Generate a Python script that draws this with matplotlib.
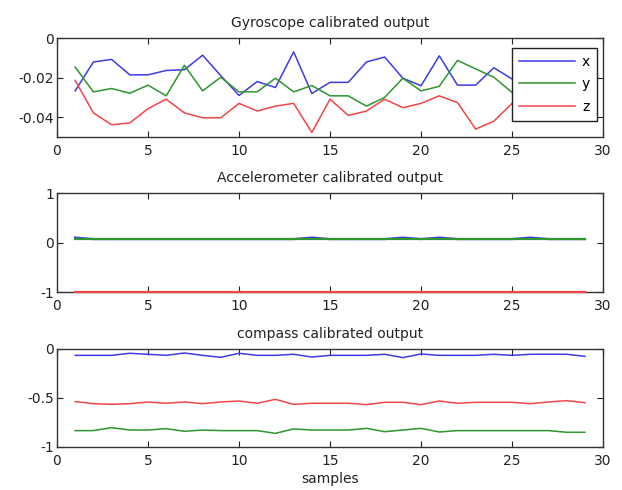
import matplotlib
import matplotlib.pyplot as plt

matplotlib.use('Agg')

samples = list(range(1, 30))

# Gyroscope calibrated output (x, y, z)
gyro_x = [-0.0267, -0.0121, -0.0108, -0.0186, -0.0186, -0.0164, -0.0160, -0.0087, -0.0190, -0.0290,
          -0.0220, -0.0250, -0.0070, -0.0280, -0.0224, -0.0224, -0.0121, -0.0096, -0.0203, -0.0241,
          -0.0090, -0.0238, -0.0238, -0.0150, -0.0207, -0.0220, -0.0200, -0.0180, -0.0210]
gyro_y = [-0.0147, -0.0272, -0.0255, -0.0279, -0.0238, -0.0292, -0.0138, -0.0267, -0.0198, -0.0272,
          -0.0272, -0.0203, -0.0272, -0.0240, -0.0292, -0.0292, -0.0344, -0.0300, -0.0203, -0.0267,
          -0.0244, -0.0113, -0.0156, -0.0198, -0.0275, -0.0280, -0.0250, -0.0270, -0.0260]
gyro_z = [-0.0215, -0.0378, -0.0438, -0.0429, -0.0357, -0.0309, -0.0378, -0.0403, -0.0403, -0.0330,
          -0.0369, -0.0344, -0.0330, -0.0477, -0.0309, -0.0391, -0.0369, -0.0309, -0.0352, -0.0330,
          -0.0292, -0.0326, -0.0460, -0.0420, -0.0330, -0.0310, -0.0340, -0.0330, -0.0350]

# Accelerometer calibrated output
acc_x = [0.1, 0.07, 0.07, 0.07, 0.07, 0.07, 0.07, 0.07, 0.07, 0.07,
         0.07, 0.07, 0.07, 0.1, 0.07, 0.07, 0.07, 0.07, 0.1, 0.07,
         0.1, 0.07, 0.07, 0.07, 0.07, 0.1, 0.07, 0.07, 0.07]
acc_y = [0.07] * 29
acc_z = [-1.0] * 29

# Compass calibrated output
comp_x = [-0.065, -0.065, -0.065, -0.044, -0.054, -0.065, -0.041, -0.065, -0.085, -0.044,
          -0.065, -0.065, -0.054, -0.082, -0.065, -0.065, -0.065, -0.054, -0.088, -0.051,
          -0.065, -0.065, -0.065, -0.054, -0.065, -0.054, -0.054, -0.054, -0.075]
comp_y = [-0.833, -0.833, -0.803, -0.827, -0.827, -0.813, -0.840, -0.827, -0.833, -0.833,
          -0.833, -0.861, -0.816, -0.827, -0.827, -0.827, -0.810, -0.844, -0.827, -0.810,
          -0.847, -0.833, -0.833, -0.833, -0.833, -0.833, -0.833, -0.850, -0.850]
comp_z = [-0.537, -0.558, -0.565, -0.558, -0.541, -0.554, -0.541, -0.558, -0.541, -0.531,
          -0.554, -0.514, -0.565, -0.554, -0.554, -0.554, -0.568, -0.544, -0.544, -0.568,
          -0.531, -0.554, -0.544, -0.544, -0.544, -0.558, -0.541, -0.527, -0.548]

titles = ['Gyroscope calibrated output', 'Accelerometer calibrated output', 'compass calibrated output']
yticks = [[-0.04, -0.02, 0], [-1, 0, 1], [-1, -0.5, 0]]
yticklabels = [['-0.04', '-0.02', '0'], ['-1', '0', '1'], ['-1', '-0.5', '0']]
ylims = [(-0.05, 0), (-1, 1), (-1, 0)]
xticks = [0, 5, 10, 15, 20, 25, 30]

blue = '#3c3ce6'
green = '#2e962e'
red = '#f04646'
ink = '#222222'

plt.rcParams['font.family'] = ['DejaVu Sans']

fig = plt.figure(figsize=(6.22, 4.9), dpi=100)
boxes = [[0.0916, 0.7204, 0.878, 0.202],
         [0.0916, 0.404, 0.878, 0.202],
         [0.0916, 0.0878, 0.878, 0.200]]
series = [(gyro_x, gyro_y, gyro_z), (acc_x, acc_y, acc_z), (comp_x, comp_y, comp_z)]

for i, box in enumerate(boxes):
    ax = fig.add_axes(box)
    sx, sy, sz = series[i]
    if i == 1:
        # accelerometer traces sit on the axis limit, draw them over the frame
        kw = dict(lw=1.6, clip_on=False, zorder=3)
    else:
        kw = dict(lw=1.1)
    ax.plot(samples, sx, color=blue, label='x', **kw)
    ax.plot(samples, sy, color=green, label='y', **kw)
    ax.plot(samples, sz, color=red, label='z', **kw)
    ax.set_xlim(0, 30)
    ax.set_ylim(*ylims[i])
    ax.set_xticks(xticks)
    ax.set_yticks(yticks[i])
    ax.set_yticklabels(yticklabels[i])
    ax.tick_params(direction='in', length=4, width=0.8, top=True, right=True,
                   labelsize=10, colors=ink)
    ax.tick_params(axis='y', pad=2)
    ax.tick_params(axis='x', pad=5)
    for sp in ax.spines.values():
        sp.set_linewidth(1.0)
        sp.set_color('#333333')
    ax.set_title(titles[i], fontsize=10, pad=8, color=ink)
    if i == 0:
        leg = ax.legend(loc='upper right', bbox_to_anchor=(0.989, 0.899), fancybox=False,
                        edgecolor=ink, framealpha=1, fontsize=10, handlelength=4.0,
                        labelspacing=0.6, borderpad=0.5, handletextpad=0.5, borderaxespad=0)
        leg.get_frame().set_linewidth(1.0)
    if i == 2:
        ax.set_xlabel('samples', fontsize=10, labelpad=3, color=ink)

fig.savefig('out.png', dpi=100)
